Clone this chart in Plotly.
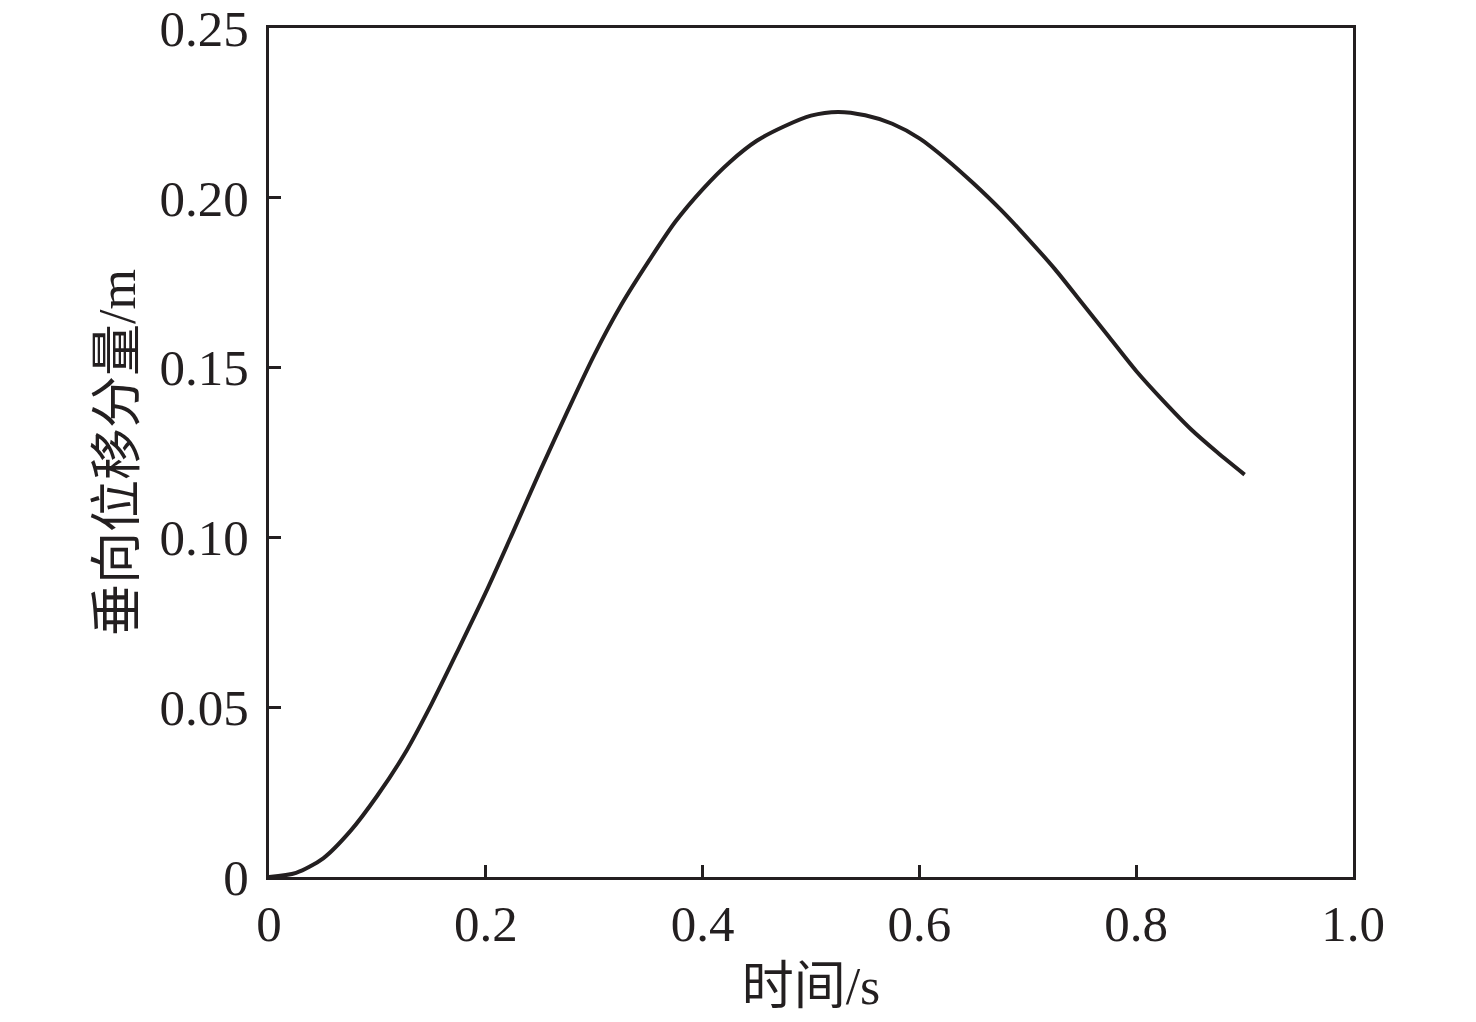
import plotly.graph_objects as go

time_s = [0.0, 0.025, 0.05, 0.075, 0.1, 0.125, 0.15, 0.175, 0.2, 0.225, 0.25, 0.275,
          0.3, 0.325, 0.35, 0.375, 0.4, 0.425, 0.45, 0.475, 0.5, 0.525, 0.55, 0.575,
          0.6, 0.625, 0.65, 0.675, 0.7, 0.725, 0.75, 0.775, 0.8, 0.825, 0.85, 0.875, 0.9]
disp_m = [0.0, 0.0012, 0.0055, 0.0135, 0.0240, 0.0362, 0.0510, 0.0672, 0.0838, 0.1015, 0.1195, 0.1369,
          0.1537, 0.1685, 0.1812, 0.1930, 0.2025, 0.2105, 0.2168, 0.2210, 0.2242, 0.2253, 0.2243, 0.2218,
          0.2175, 0.2113, 0.2042, 0.1965, 0.1880, 0.1790, 0.1690, 0.1590, 0.1490, 0.1402, 0.1320, 0.1250, 0.1185]

x_ticks = [0, 0.2, 0.4, 0.6, 0.8, 1.0]
x_labels = ["0", "0.2", "0.4", "0.6", "0.8", "1.0"]
y_ticks = [0, 0.05, 0.10, 0.15, 0.20, 0.25]
y_labels = ["0", "0.05", "0.10", "0.15", "0.20", "0.25"]

FONT = "Liberation Serif, Times New Roman, Noto Sans CJK SC, serif"
INK = "#231f20"

fig = go.Figure(go.Scatter(x=time_s, y=disp_m, mode="lines",
                           line=dict(color=INK, width=4, shape="spline", smoothing=0.8),
                           showlegend=False))

axis_common = dict(showgrid=False, zeroline=False, showline=True, linecolor=INK,
                   linewidth=3, mirror=True, ticks="inside", ticklen=12, tickwidth=3,
                   tickcolor=INK, automargin=False, ticklabeloverflow="allow",
                   tickfont=dict(family=FONT, size=51, color=INK))

fig.update_xaxes(range=[0, 1.0], tickvals=x_ticks, ticktext=x_labels,
                 title=dict(text="时间/s", font=dict(family=FONT, size=52, color=INK), standoff=17),
                 **axis_common)
fig.update_yaxes(range=[0, 0.25], tickvals=y_ticks, ticktext=y_labels, ticklabelstandoff=7,
                 title=dict(text="垂向位移分量/m", font=dict(family=FONT, size=52, color=INK), standoff=8),
                 **axis_common)

fig.update_layout(width=1468, height=1014, plot_bgcolor="white", paper_bgcolor="white",
                  margin=dict(l=261, r=123, t=20, b=145))

fig.write_html("out.html")
